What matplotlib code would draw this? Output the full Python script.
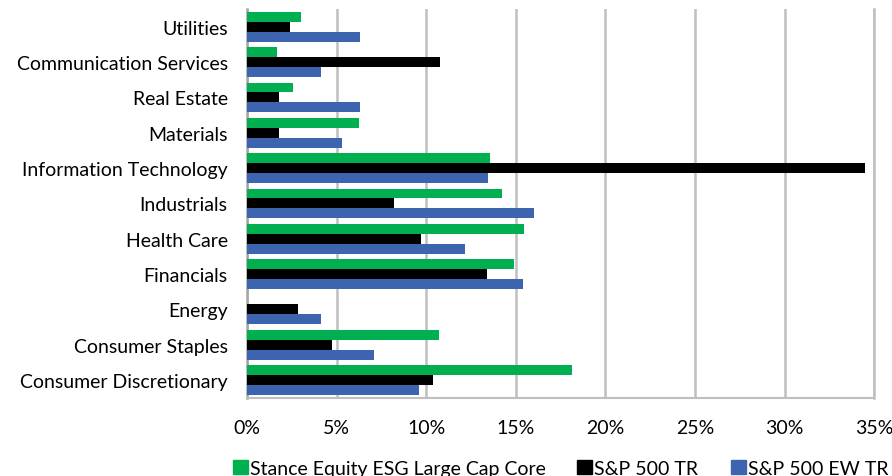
import matplotlib
matplotlib.use('Agg')
import matplotlib.pyplot as plt
import numpy as np
from matplotlib.patches import Patch
from matplotlib.ticker import PercentFormatter

# sectors, bottom to top
categories = ['Consumer Discretionary', 'Consumer Staples', 'Energy', 'Financials',
              'Health Care', 'Industrials', 'Information Technology', 'Materials',
              'Real Estate', 'Communication Services', 'Utilities']
stance = [18.15, 10.7, 0.0, 14.9, 15.45, 14.25, 13.55, 6.25, 2.55, 1.65, 3.0]
sp500 = [10.4, 4.75, 2.84, 13.4, 9.68, 8.2, 34.5, 1.8, 1.8, 10.75, 2.4]
sp500_ew = [9.6, 7.1, 4.12, 15.4, 12.15, 16.0, 13.45, 5.3, 6.33, 4.12, 6.33]
series_names = ['Stance Equity ESG Large Cap Core', 'S&P 500 TR', 'S&P 500 EW TR']
colors = ['#00B050', '#000000', '#3D64AE']

plt.rcParams['font.family'] = ['Lato', 'DejaVu Sans']
FS = 14

fig = plt.figure(figsize=(8.92, 4.77), dpi=100)
ax = fig.add_axes([0.277, 0.164, 0.703, 0.815])

y = np.arange(len(categories))
h = 0.28
ax.barh(y + h, stance, height=h, color=colors[0], zorder=3)
ax.barh(y, sp500, height=h, color=colors[1], zorder=3)
ax.barh(y - h, sp500_ew, height=h, color=colors[2], zorder=3)

ax.set_xlim(0, 35)
ax.set_ylim(-0.5, len(categories) - 0.5)
ax.set_xticks(np.arange(0, 36, 5))
ax.xaxis.set_major_formatter(PercentFormatter(decimals=0))
ax.set_yticks(y)
ax.set_yticklabels(categories)
ax.tick_params(axis='both', length=0, labelsize=FS, colors='#000000')
ax.tick_params(axis='x', pad=15)
ax.tick_params(axis='y', pad=14)

ax.grid(axis='x', color='#BFBFBF', linewidth=1.8, zorder=0)
ax.spines['top'].set_visible(False)
ax.spines['right'].set_color('#BFBFBF')
ax.spines['right'].set_linewidth(1.8)
ax.spines['left'].set_color('#A6A6A6')
ax.spines['left'].set_linewidth(1.8)
ax.spines['bottom'].set_color('#BFBFBF')
ax.spines['bottom'].set_linewidth(1.5)

# legend entries placed one by one, like the uneven spacing of the original
legend_x = [233, 577, 731]
for name, c, lx in zip(series_names, colors, legend_x):
    fig.legend([Patch(color=c)], [name], loc='center left',
               bbox_to_anchor=(lx / 892, 0.016), frameon=False, fontsize=FS,
               handlelength=0.75, handleheight=0.75, handletextpad=0.15,
               borderpad=0, borderaxespad=0)

fig.savefig('out.png', dpi=100)
